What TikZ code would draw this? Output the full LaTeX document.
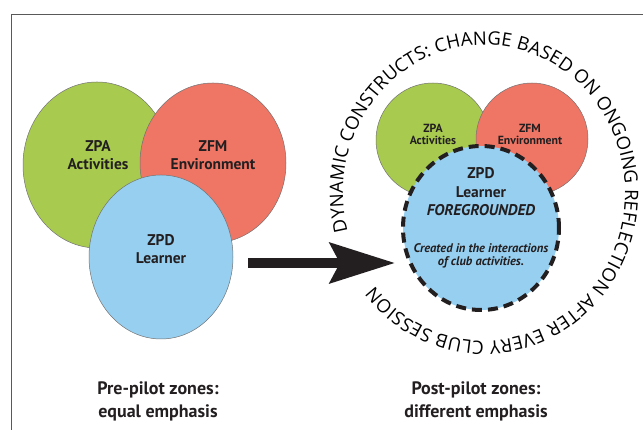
\documentclass[tikz,border=0pt]{standalone}
\usepackage{fontspec}
\setmainfont{PT Sans}
\newfontfamily\ringfam{Open Sans}
\usepackage{tikz}
\usetikzlibrary{arrows.meta,decorations.text}
\definecolor{zpagreen}{RGB}{168,203,79}
\definecolor{zfmred}{RGB}{239,117,101}
\definecolor{zpdblue}{RGB}{151,207,240}
\definecolor{ink}{RGB}{35,31,32}
\newcommand\ringfont{\ringfam\fontsize{18.5}{18.5}\selectfont}
\tikzset{zone/.style={draw=black!55,line width=.5pt},
  biglbl/.style={align=center,text=ink,font=\bfseries\fontsize{15.5}{18.5}\selectfont},
  smalllbl/.style={align=center,text=ink,font=\bfseries\fontsize{11.8}{12}\selectfont},
  caption/.style={align=center,text=ink,font=\bfseries\fontsize{18}{23}\selectfont}}

\begin{document}
\begin{tikzpicture}[x=1pt,y=1pt]
  \useasboundingbox (0,0) rectangle (643,430);
 %frame
  \draw[black!65,line width=1pt] (11,0) -- (11,415) -- (643,415);
 %pre-pilot zones
  %draw zones
    \draw[zone,fill=zpagreen] (97,265) ellipse (74pt and 83pt);
    \draw[zone,fill=zfmred] (213,267) ellipse (73pt and 80pt);
    \draw[zone,fill=zpdblue] (161,173) ellipse (72pt and 82pt);
  %labels
    \node[biglbl] (zpa) at (98,275) {ZPA\\Activities};
    \node[biglbl] (zfm) at (213,275) {ZFM\\Environment};
    \node[biglbl] (zpd) at (161,181) {ZPD\\Learner};
 %post-pilot zones
  %draw zones
    \draw[zone,fill=zpagreen] (433,290) circle (57pt);
    \draw[zone,fill=zfmred] (532,291) circle (56pt);
    \draw[fill=zpdblue,draw=ink,line width=4pt,dash pattern=on 10pt off 6pt] (481,202) ellipse (78pt and 82pt);
  %labels
    \node[smalllbl] (zpa2) at (433,296) {ZPA\\Activities};
    \node[smalllbl] (zfm2) at (530,296) {ZFM\\Environment};
    \node[biglbl] (zpd2) at (481,238) {ZPD\\Learner\\\textit{FOREGROUNDED}};
    \node[smalllbl,font=\bfseries\itshape\fontsize{12.5}{12.5}\selectfont] (made) at (481,174) {Created in the interactions\\of club activities.};
  %ring text
    \path[decorate,decoration={text along path,text align=fit to path,
        text={|\ringfont|DYNAMIC CONSTRUCTS: CHANGE BASED ON ONGOING REFLECTION AFTER EVERY CLUB SESSION}}]
      (484,237) ++(195:141pt and 148pt) arc[start angle=195,end angle=-141,x radius=141pt,y radius=148pt];
 %arrow
  \coordinate (pre) at (248,167);
  \coordinate (post) at (395,167);
  \draw[ink,line width=10pt,-{Stealth[length=65pt,width=40pt,inset=10pt]}] (pre) -- (post);
 %captions
  \node[caption] (cap1) at (158,29) {Pre-pilot zones:\\equal emphasis};
  \node[caption] (cap2) at (476,29) {Post-pilot zones:\\different emphasis};
\end{tikzpicture}
\end{document}
